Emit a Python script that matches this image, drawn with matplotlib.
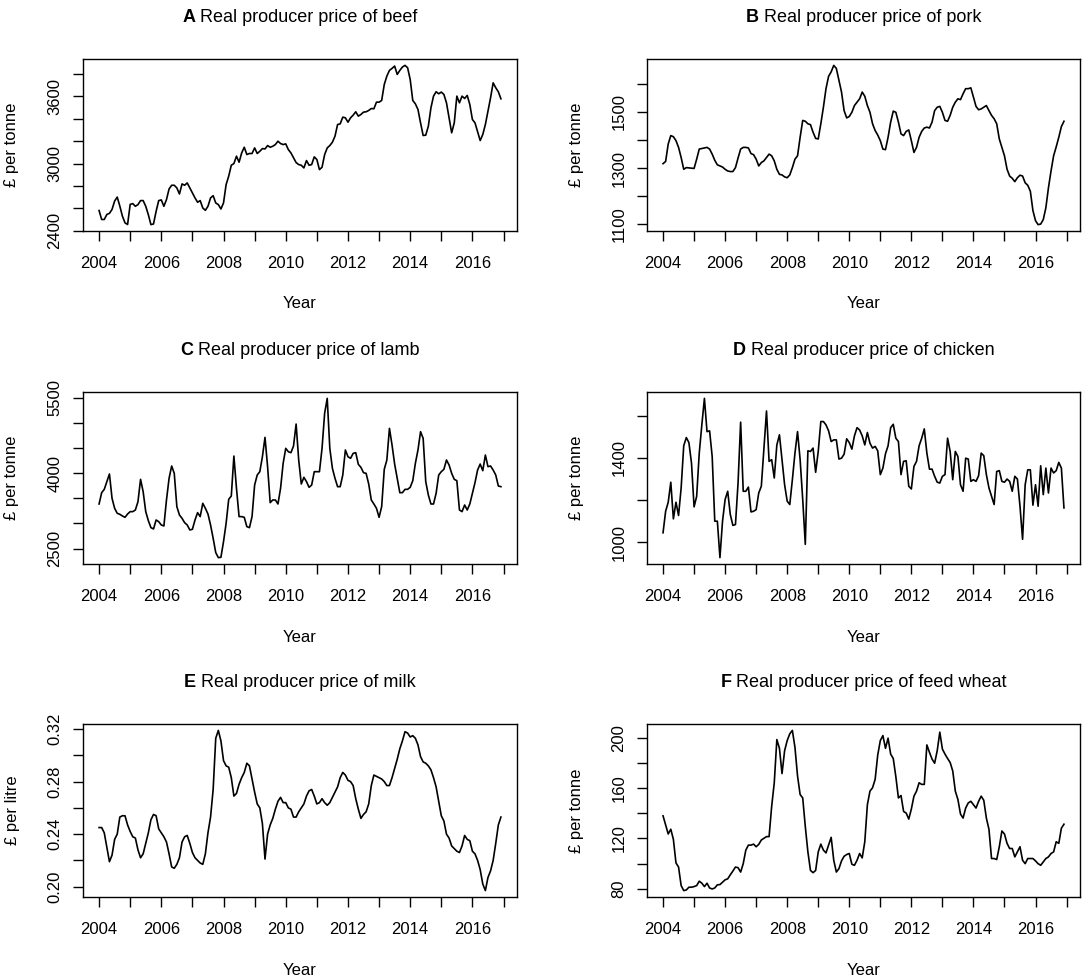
import matplotlib
matplotlib.use("Agg")
import matplotlib.pyplot as plt
import numpy as np

plt.rcParams["font.family"] = ["Liberation Sans", "DejaVu Sans"]

# monthly series, Jan 2004 .. Dec 2016 (one row per year)
beef = [
    2580, 2500, 2500, 2545, 2555, 2590, 2665, 2700, 2620, 2530, 2470, 2455,
    2635, 2642, 2618, 2633, 2669, 2669, 2618, 2543, 2454, 2460, 2573, 2669,
    2675, 2618, 2678, 2773, 2806, 2806, 2782, 2728, 2818, 2806, 2827, 2782,
    2737, 2693, 2654, 2669, 2603, 2582, 2618, 2693, 2713, 2648, 2633, 2594,
    2648, 2812, 2887, 2985, 3000, 3066, 3012, 3095, 3146, 3081, 3090, 3090,
    3140, 3090, 3110, 3134, 3131, 3161, 3146, 3155, 3170, 3200, 3179, 3170,
    3176, 3125, 3095, 3051, 3009, 2991, 2985, 2961, 3027, 2985, 2991, 3060,
    3036, 2946, 2967, 3080, 3140, 3161, 3191, 3245, 3349, 3355, 3415, 3409,
    3370, 3409, 3433, 3463, 3424, 3439, 3460, 3463, 3475, 3492, 3490, 3549,
    3549, 3564, 3707, 3782, 3833, 3851, 3872, 3797, 3833, 3863, 3878, 3857,
    3752, 3564, 3534, 3484, 3364, 3251, 3254, 3334, 3498, 3603, 3642, 3624,
    3639, 3618, 3543, 3409, 3275, 3364, 3603, 3543, 3603, 3582, 3609, 3528,
    3394, 3364, 3284, 3206, 3260, 3349, 3469, 3588, 3722, 3678, 3642, 3579,
]
pork = [
    1316, 1324, 1386, 1416, 1412, 1398, 1374, 1338, 1296, 1302, 1301, 1300,
    1299, 1332, 1368, 1370, 1372, 1374, 1368, 1350, 1328, 1312, 1308, 1304,
    1296, 1290, 1288, 1288, 1302, 1336, 1368, 1374, 1374, 1372, 1352, 1348,
    1332, 1308, 1320, 1326, 1338, 1350, 1344, 1326, 1296, 1278, 1276, 1269,
    1266, 1276, 1302, 1332, 1344, 1410, 1470, 1467, 1458, 1455, 1428, 1406,
    1404, 1458, 1517, 1583, 1627, 1643, 1666, 1655, 1613, 1571, 1505, 1479,
    1484, 1499, 1523, 1535, 1547, 1571, 1556, 1523, 1499, 1458, 1434, 1418,
    1398, 1368, 1366, 1410, 1464, 1503, 1499, 1464, 1422, 1416, 1431, 1436,
    1398, 1356, 1374, 1410, 1431, 1443, 1446, 1443, 1464, 1505, 1517, 1520,
    1499, 1470, 1467, 1488, 1517, 1535, 1547, 1544, 1565, 1583, 1583, 1586,
    1553, 1520, 1508, 1511, 1517, 1523, 1505, 1488, 1476, 1458, 1404, 1374,
    1344, 1296, 1272, 1264, 1252, 1266, 1275, 1272, 1248, 1239, 1218, 1149,
    1113, 1099, 1101, 1117, 1159, 1230, 1290, 1344, 1376, 1410, 1448, 1467,
]
lamb = [
    3387, 3612, 3678, 3831, 3983, 3500, 3301, 3202, 3182, 3149, 3122, 3188,
    3235, 3235, 3268, 3433, 3877, 3632, 3235, 3056, 2917, 2891, 3069, 3036,
    2970, 2950, 3467, 3897, 4142, 3996, 3334, 3169, 3102, 3016, 2970, 2871,
    2884, 3069, 3215, 3136, 3400, 3301, 3188, 2970, 2705, 2421, 2321, 2328,
    2639, 3003, 3480, 3546, 4340, 3698, 3136, 3136, 3122, 2937, 2917, 3136,
    3764, 3963, 4029, 4327, 4711, 4129, 3414, 3467, 3467, 3387, 3698, 4195,
    4493, 4426, 4407, 4539, 4976, 4261, 3784, 3917, 3831, 3718, 3764, 4029,
    4029, 4029, 4493, 5188, 5486, 4493, 4095, 3897, 3731, 3731, 3963, 4460,
    4327, 4294, 4393, 4407, 4175, 4115, 4009, 3996, 3784, 3467, 3387, 3301,
    3122, 3334, 4076, 4261, 4890, 4559, 4181, 3897, 3612, 3612, 3678, 3678,
    3718, 3850, 4195, 4460, 4824, 4691, 3831, 3566, 3387, 3387, 3599, 3963,
    4029, 4076, 4261, 4162, 3996, 3877, 3850, 3268, 3235, 3367, 3268, 3387,
    3599, 3811, 4062, 4181, 4049, 4360, 4129, 4142, 4062, 3963, 3745, 3731,
]
chicken = [
    1044, 1146, 1189, 1284, 1110, 1189, 1126, 1257, 1457, 1496, 1472, 1375,
    1167, 1217, 1422, 1556, 1682, 1524, 1528, 1406, 1099, 1099, 926, 1099,
    1202, 1241, 1131, 1079, 1083, 1280, 1569, 1241, 1241, 1261, 1143, 1146,
    1154, 1233, 1265, 1446, 1622, 1383, 1391, 1304, 1461, 1509, 1391, 1272,
    1194, 1178, 1296, 1422, 1524, 1391, 1202, 989, 1433, 1430, 1446, 1331,
    1430, 1572, 1572, 1556, 1528, 1477, 1485, 1485, 1394, 1398, 1417, 1490,
    1472, 1441, 1504, 1543, 1532, 1504, 1461, 1520, 1469, 1446, 1454, 1433,
    1320, 1351, 1419, 1457, 1543, 1559, 1493, 1477, 1320, 1383, 1386, 1265,
    1252, 1359, 1383, 1457, 1493, 1537, 1422, 1346, 1346, 1312, 1284, 1280,
    1312, 1320, 1493, 1430, 1296, 1430, 1406, 1272, 1241, 1398, 1394, 1288,
    1296, 1288, 1315, 1422, 1410, 1320, 1257, 1217, 1178, 1335, 1339, 1288,
    1284, 1299, 1288, 1241, 1312, 1299, 1170, 1013, 1272, 1343, 1343, 1175,
    1272, 1170, 1362, 1225, 1351, 1233, 1351, 1328, 1339, 1378, 1351, 1162,
]
milk = [
    0.245, 0.245, 0.241, 0.230, 0.219, 0.224, 0.236, 0.240, 0.253, 0.254, 0.254, 0.247,
    0.242, 0.238, 0.237, 0.228, 0.222, 0.225, 0.233, 0.241, 0.251, 0.255, 0.254, 0.244,
    0.241, 0.238, 0.234, 0.225, 0.215, 0.214, 0.217, 0.222, 0.234, 0.238, 0.239, 0.233,
    0.226, 0.222, 0.220, 0.218, 0.217, 0.225, 0.241, 0.253, 0.274, 0.313, 0.319, 0.311,
    0.296, 0.292, 0.291, 0.283, 0.269, 0.271, 0.278, 0.283, 0.287, 0.294, 0.292, 0.282,
    0.272, 0.263, 0.260, 0.248, 0.221, 0.240, 0.247, 0.252, 0.259, 0.265, 0.268, 0.264,
    0.264, 0.260, 0.259, 0.253, 0.253, 0.257, 0.260, 0.263, 0.269, 0.273, 0.274, 0.269,
    0.263, 0.264, 0.267, 0.264, 0.262, 0.264, 0.268, 0.272, 0.276, 0.283, 0.287, 0.285,
    0.281, 0.280, 0.277, 0.267, 0.259, 0.252, 0.255, 0.257, 0.263, 0.277, 0.285, 0.284,
    0.283, 0.282, 0.280, 0.277, 0.277, 0.283, 0.290, 0.297, 0.305, 0.311, 0.318, 0.317,
    0.314, 0.315, 0.313, 0.308, 0.299, 0.295, 0.294, 0.292, 0.289, 0.283, 0.276, 0.265,
    0.254, 0.250, 0.240, 0.237, 0.231, 0.229, 0.227, 0.226, 0.231, 0.239, 0.236, 0.235,
    0.227, 0.225, 0.220, 0.213, 0.202, 0.197, 0.207, 0.212, 0.220, 0.233, 0.247, 0.253,
]
wheat = [
    138.1, 130.9, 123.6, 127.4, 119.3, 100.5, 97.2, 82.4, 78.4, 78.9, 81.1, 81.1,
    81.6, 82.4, 85.9, 84.3, 81.6, 84.3, 80.5, 79.7, 80.5, 83.0, 83.2, 85.1,
    87.0, 87.8, 91.0, 94.0, 97.2, 96.7, 93.2, 99.9, 110.7, 114.7, 114.7, 115.5,
    113.4, 115.3, 118.8, 120.1, 121.5, 121.5, 145.7, 164.5, 199.0, 192.0, 171.8, 190.1,
    198.2, 203.6, 206.3, 192.8, 169.9, 155.1, 152.4, 129.5, 109.3, 94.5, 92.7, 94.5,
    109.3, 115.5, 110.7, 108.5, 114.7, 120.9, 102.6, 93.2, 95.9, 102.1, 105.8, 107.2,
    108.0, 99.4, 98.6, 102.6, 108.0, 104.5, 117.4, 147.0, 157.8, 160.5, 167.2, 186.6,
    198.2, 202.2, 192.0, 200.1, 187.4, 183.9, 169.4, 152.4, 154.3, 141.6, 140.3, 135.5,
    143.5, 153.8, 157.8, 164.5, 163.2, 163.2, 194.7, 188.8, 183.4, 180.1, 190.1, 204.9,
    191.4, 187.4, 183.9, 180.7, 173.9, 157.8, 151.1, 139.5, 136.3, 144.3, 148.4, 149.7,
    147.0, 144.3, 149.7, 153.8, 150.5, 136.3, 127.4, 104.0, 104.0, 103.2, 113.4, 126.0,
    123.6, 116.1, 112.0, 112.0, 105.3, 109.3, 113.4, 102.6, 99.9, 104.0, 104.0, 104.0,
    102.1, 99.9, 98.6, 101.3, 104.0, 105.3, 108.0, 109.3, 117.4, 116.1, 128.2, 131.4,
]

years = 2004 + np.arange(len(beef)) / 12.0
year_ticks = list(range(2004, 2018))
year_labels = [str(y) if y % 2 == 0 and y <= 2016 else "" for y in year_ticks]

W, H = 1084, 980
COLS = [(83, 517), (647, 1080)]
ROWS = [(59, 231), (392, 564), (724, 897)]


def labelled(ticks, shown, fmt="{:g}"):
    return [fmt.format(t) if t in shown else "" for t in ticks]


panels = [
    ("A", "Real producer price of beef", beef, "\u00a3 per tonne",
     list(range(2400, 3801, 200)), [2400, 3000, 3600], "{:d}"),
    ("B", "Real producer price of pork", pork, "\u00a3 per tonne",
     list(range(1100, 1601, 100)), [1100, 1300, 1500], "{:d}"),
    ("C", "Real producer price of lamb", lamb, "\u00a3 per tonne",
     list(range(2500, 5501, 500)), [2500, 4000, 5500], "{:d}"),
    ("D", "Real producer price of chicken", chicken, "\u00a3 per tonne",
     list(range(1000, 1601, 200)), [1000, 1400], "{:d}"),
    ("E", "Real producer price of milk", milk, "\u00a3 per litre",
     [0.20, 0.22, 0.24, 0.26, 0.28, 0.30, 0.32], [0.20, 0.24, 0.28, 0.32], "{:.2f}"),
    ("F", "Real producer price of feed wheat", wheat, "\u00a3 per tonne",
     list(range(80, 201, 20)), [80, 120, 160, 200], "{:d}"),
]

fig = plt.figure(figsize=(W / 100, H / 100), dpi=100)
renderer = fig.canvas.get_renderer()

for k, (letter, name, values, ylab, yticks, shown, fmt) in enumerate(panels):
    left, right = COLS[k % 2]
    top, bottom = ROWS[k // 2]
    ax = fig.add_axes([left / W, 1 - bottom / H, (right - left) / W, (bottom - top) / H])
    ax.plot(years, values, color="black", lw=1.2)

    span = years[-1] - years[0]
    ax.set_xlim(years[0] - 0.04 * span, years[-1] + 0.04 * span)
    lo, hi = min(values), max(values)
    ax.set_ylim(lo - 0.04 * (hi - lo), hi + 0.04 * (hi - lo))

    ax.set_xticks(year_ticks)
    ax.set_xticklabels(year_labels)
    ax.set_yticks(yticks)
    ax.set_yticklabels(labelled(yticks, shown, fmt), rotation=90, va="center")
    ax.tick_params(direction="out", length=7.2, width=1.0, labelsize=12, colors="black")
    ax.tick_params(axis="x", pad=11)
    ax.tick_params(axis="y", pad=7.5)
    for sp in ax.spines.values():
        sp.set_linewidth(1.0)

    xc = (left + right) / 2
    # title: bold panel letter followed by plain text, centred over the box
    ty = 1 - (top - 37) / H
    t1 = fig.text(0, ty, letter, weight="bold", size=13, va="baseline", ha="left")
    t2 = fig.text(0, ty, " " + name, size=13, va="baseline", ha="left")
    w1 = t1.get_window_extent(renderer).width
    w2 = t2.get_window_extent(renderer).width
    x0 = xc - (w1 + w2) / 2
    t1.set_x(x0 / W)
    t2.set_x((x0 + w1) / W)

    fig.text(xc / W, 1 - (bottom + 73) / H, "Year", ha="center", va="center", size=12)
    fig.text((left - 71) / W, 1 - (top + bottom) / 2 / H, ylab,
             rotation=90, ha="center", va="center", size=12)

fig.savefig("out.png", dpi=100)
